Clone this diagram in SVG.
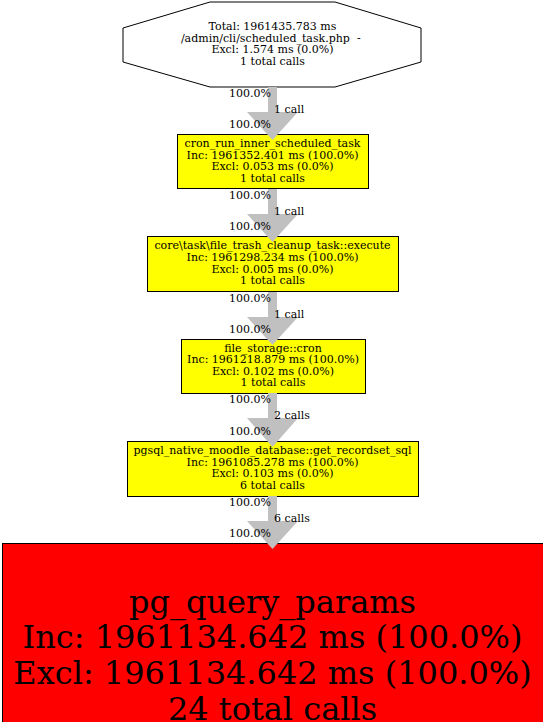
<svg xmlns="http://www.w3.org/2000/svg" width="543" height="722" viewBox="0 0 543 722">
<style>
text{font-family:"DejaVu Serif",serif;fill:#000}
.n{font-size:11px;text-anchor:middle}
.big{font-size:32px;text-anchor:middle}
.lbl{font-size:11px}
.t{text-anchor:end}
.box{stroke:#000;stroke-width:1}
.shaft{stroke:#c0c0c0;stroke-width:9;fill:none}
.head{fill:#c0c0c0;stroke:none}
</style>
<rect width="543" height="722" fill="#fff"/>
<g id="node1">
<polygon points="210,2 335,2 421,28 421,62 335,87 210,87 123,62 123,28" fill="#fff" class="box"/>
<text class="n" x="272.5" y="30">Total: 1961435.783 ms</text>
<text class="n" x="272.5" y="41.5" xml:space="preserve" style="white-space:pre">/admin/cli/scheduled_task.php  - </text>
<text class="n" x="272.5" y="53">Excl: 1.574 ms (0.0%)</text>
<text class="n" x="272.5" y="64.6">1 total calls</text>
</g>
<g id="node2">
<rect x="177.5" y="134.5" width="191" height="54" fill="#ffff00" class="box"/>
<text class="n" x="272.5" y="147">cron_run_inner_scheduled_task</text>
<text class="n" x="272.5" y="158.5">Inc: 1961352.401 ms (100.0%)</text>
<text class="n" x="272.5" y="170">Excl: 0.053 ms (0.0%)</text>
<text class="n" x="272.5" y="181.6">1 total calls</text>
</g>
<g id="node3">
<rect x="147.5" y="236.5" width="251" height="55" fill="#ffff00" class="box"/>
<text class="n" x="272.5" y="249.4">core\task\file_trash_cleanup_task::execute</text>
<text class="n" x="272.5" y="261">Inc: 1961298.234 ms (100.0%)</text>
<text class="n" x="272.5" y="272.6">Excl: 0.005 ms (0.0%)</text>
<text class="n" x="272.5" y="284.2">1 total calls</text>
</g>
<g id="node4">
<rect x="181.5" y="339.5" width="184" height="54" fill="#ffff00" class="box"/>
<text class="n" x="273" y="351.6">file_storage::cron</text>
<text class="n" x="273" y="363.2">Inc: 1961218.879 ms (100.0%)</text>
<text class="n" x="273" y="374.8">Excl: 0.102 ms (0.0%)</text>
<text class="n" x="273" y="386.4">1 total calls</text>
</g>
<g id="node5">
<rect x="127.5" y="441.5" width="291" height="55" fill="#ffff00" class="box"/>
<text class="n" x="272.5" y="454">pgsql_native_moodle_database::get_recordset_sql</text>
<text class="n" x="272.5" y="465.6">Inc: 1961085.278 ms (100.0%)</text>
<text class="n" x="272.5" y="477.2">Excl: 0.103 ms (0.0%)</text>
<text class="n" x="272.5" y="488.8">6 total calls</text>
</g>
<g id="node6">
<rect x="2.5" y="543.5" width="545" height="190" fill="#ff0000" class="box"/>
<text class="big" x="272.5" y="613">pg_query_params</text>
<text class="big" x="272.5" y="648">Inc: 1961134.642 ms (100.0%)</text>
<text class="big" x="272.5" y="684">Excl: 1961134.642 ms (100.0%)</text>
<text class="big" x="272.5" y="720">24 total calls</text>
</g>
<g id="edges">
<line class="shaft" x1="272.5" y1="87" x2="272.5" y2="113"/>
<polygon class="head" points="247,112 298,112 272.5,140"/>
<text class="lbl t" x="271" y="97">100.0%</text>
<text class="lbl" x="274" y="113">1 call</text>
<text class="lbl t" x="271" y="128">100.0%</text>

<line class="shaft" x1="272.5" y1="189" x2="272.5" y2="215"/>
<polygon class="head" points="247,214 298,214 272.5,242"/>
<text class="lbl t" x="271" y="199">100.0%</text>
<text class="lbl" x="274" y="215">1 call</text>
<text class="lbl t" x="271" y="230">100.0%</text>

<line class="shaft" x1="272.5" y1="292" x2="272.5" y2="318"/>
<polygon class="head" points="247,317 298,317 272.5,345"/>
<text class="lbl t" x="271" y="302">100.0%</text>
<text class="lbl" x="274" y="318">1 call</text>
<text class="lbl t" x="271" y="333">100.0%</text>

<line class="shaft" x1="272.5" y1="393" x2="272.5" y2="419"/>
<polygon class="head" points="247,418 298,418 272.5,447"/>
<text class="lbl t" x="271" y="403">100.0%</text>
<text class="lbl" x="274" y="419">2 calls</text>
<text class="lbl t" x="271" y="435">100.0%</text>

<line class="shaft" x1="272.5" y1="496" x2="272.5" y2="522"/>
<polygon class="head" points="247,521 298,521 272.5,549"/>
<text class="lbl t" x="271" y="506">100.0%</text>
<text class="lbl" x="274" y="522">6 calls</text>
<text class="lbl t" x="271" y="537">100.0%</text>
</g>
</svg>
